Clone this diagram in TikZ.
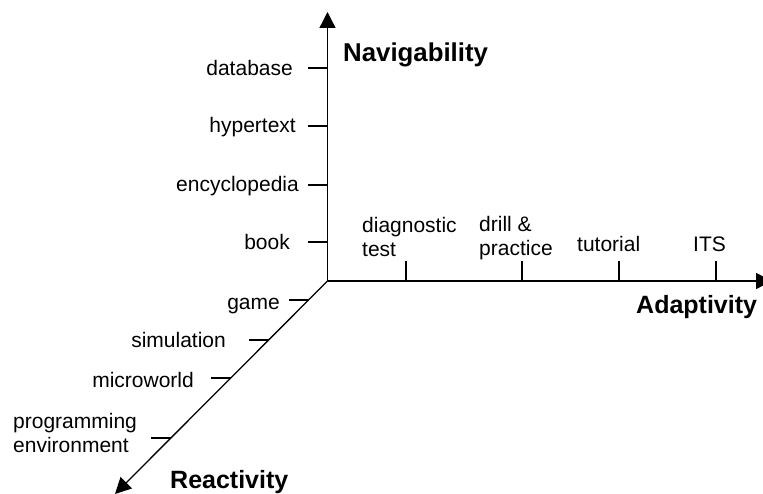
\documentclass[tikz,border=0pt]{standalone}
\usepackage{fontspec}
\setmainfont{Liberation Sans}
\usetikzlibrary{arrows.meta,calc}
\begin{document}
\begin{tikzpicture}[x=1pt,y=-1pt,
  axis/.style={line width=1.3pt,-{Triangle[length=16pt,width=16pt]}},
  tickmark/.style={line width=1.2pt},
  lbl/.style={inner sep=0pt,font=\fontsize{21}{24}\selectfont},
  ttl/.style={inner sep=0pt,font=\bfseries\fontsize{25}{30}\selectfont}]
\useasboundingbox (0,0) rectangle (763,494);

% origin and axis ends
\coordinate (O) at (327.5,281);
\coordinate (nav) at (327.5,12);
\coordinate (ada) at (772,281);
\coordinate (rea) at (115,494);

\draw[axis] (O) -- (nav);
\draw[axis] (O) -- (ada);
\draw[axis] (O) -- (rea);

% axis titles
\node[ttl,anchor=base west,font=\bfseries\fontsize{25.8}{30}\selectfont] (tnav) at (343,62) {Navigability};
\node[ttl,anchor=base west] (tada) at (636,313) {Adaptivity};
\node[ttl,anchor=base west] (trea) at (170,488) {Reactivity};

% navigability scale
\foreach \name/\ty in {v1/68,v2/126,v3/185,v4/242}{
  \coordinate (\name) at (327.5,\ty);
  \draw[tickmark] (\name) -- ++(-19.5,0);
}
\node[lbl,anchor=base east] (database) at (293,76) {database};
\node[lbl,anchor=base east] (hypertext) at (296,133) {hypertext};
\node[lbl,anchor=base east] (encyclopedia) at (299,192) {encyclopedia};
\node[lbl,anchor=base east] (book) at (290,250) {book};

% adaptivity scale
\foreach \name/\tx in {h1/406,h2/522,h3/619,h4/716}{
  \coordinate (\name) at (\tx,281);
  \draw[tickmark] (\name) -- ++(0,-19.5);
}
\node[lbl,anchor=base west] (diag) at (362,233)
  {\begin{tabular}[t]{@{}l@{}}diagnostic\\test\end{tabular}};
\node[lbl,anchor=base west] (drill) at (479,232)
  {\begin{tabular}[t]{@{}l@{}}drill \&\\practice\end{tabular}};
\node[lbl,anchor=base west] (tutorial) at (577,252) {tutorial};
\node[lbl,anchor=base west] (its) at (693,252) {ITS};

% reactivity scale
\foreach \name/\t in {r1/0.0892,r2/0.277,r3/0.455,r4/0.737}{
  \coordinate (\name) at ($(O)!\t!(rea)$);
  \draw[tickmark] (\name) -- ++(-19.5,0);
}
\node[lbl,anchor=base east] (game) at (280,310) {game};
\node[lbl,anchor=base east] (simulation) at (226,348) {simulation};
\node[lbl,anchor=base east] (microworld) at (194,387) {microworld};
\node[lbl,anchor=base west] (progenv) at (13,428)
  {\begin{tabular}[t]{@{}l@{}}programming\\environment\end{tabular}};
\end{tikzpicture}
\end{document}
